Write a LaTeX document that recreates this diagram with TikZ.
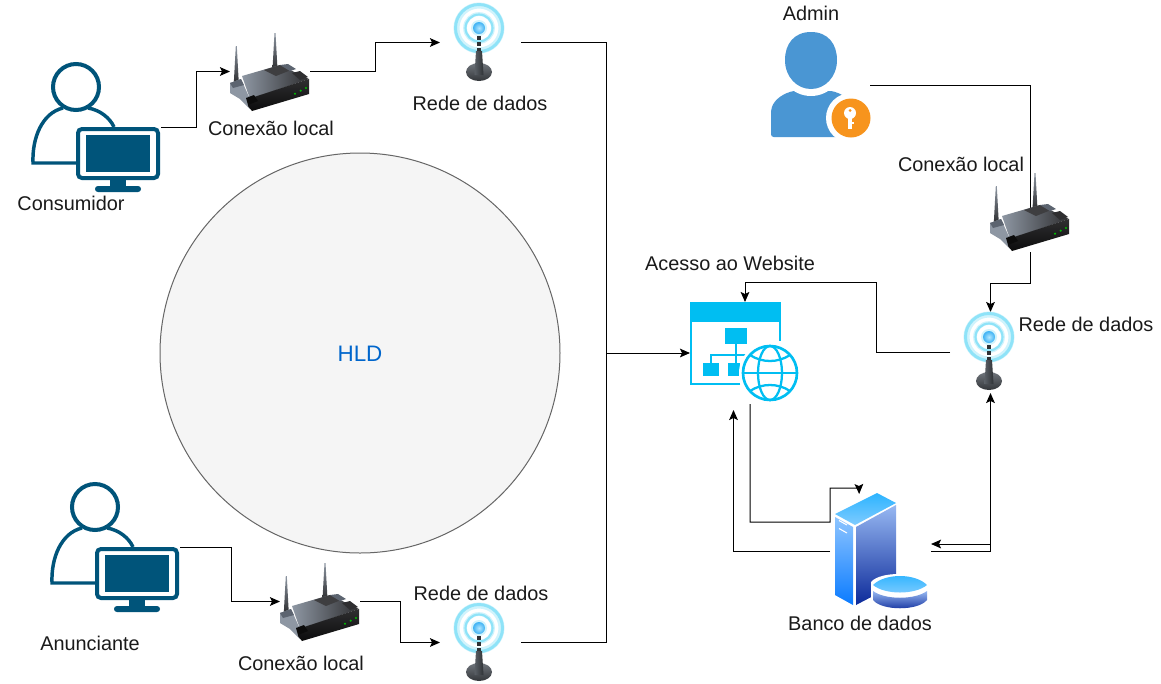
\documentclass[tikz,border=0pt]{standalone}
\usepackage{fontspec}
\setmainfont{Liberation Sans}
\usetikzlibrary{arrows.meta}
\definecolor{teal}{HTML}{00547A}
\definecolor{webc}{HTML}{00BEF2}
\definecolor{adminb}{HTML}{4A96D3}
\definecolor{admino}{HTML}{F7941D}
\definecolor{txt}{HTML}{1A1A1A}
\definecolor{hld}{HTML}{0066CC}
\definecolor{rga}{HTML}{8E97A3}
\definecolor{rgb}{HTML}{5C6470}
\definecolor{rgc}{HTML}{2E2E30}
\definecolor{rgd}{HTML}{0C0C0C}
\definecolor{rge}{HTML}{3E3E40}
\definecolor{ring}{HTML}{8FE3F8}
\definecolor{ringl}{HTML}{D0F3FC}
\definecolor{balla}{HTML}{B4E8FF}
\definecolor{ballb}{HTML}{3FB2F4}
\definecolor{stema}{HTML}{5A5F66}
\definecolor{stemb}{HTML}{2F3236}
\definecolor{basea}{HTML}{70757C}
\definecolor{baseb}{HTML}{33363A}
\definecolor{dla}{HTML}{8EC5FF}
\definecolor{dlb}{HTML}{0A7BFF}
\definecolor{dra}{HTML}{97B8F2}
\definecolor{drb}{HTML}{0C2A9A}
\definecolor{dta}{HTML}{2CB4FF}
\definecolor{dtb}{HTML}{7FCBFF}
\tikzset{
  x=0.75pt,y=-0.75pt,
  iconbox/.style 2 args={rectangle,inner sep=0pt,outer sep=0pt,minimum width=#1*0.75pt,minimum height=#2*0.75pt},
  lbl/.style={inner sep=0pt,text=txt,font=\fontsize{14.9}{18}\selectfont},
  conn/.style={draw=black,line width=0.75pt},
  arr/.style={conn,-{Stealth[length=7.5pt,width=6.5pt,inset=1.5pt]}},
  pics/personicon/.style={code={
    \draw[teal,line width=3pt] (44,24) circle[radius=23];
    \draw[teal,line width=2.6pt,line join=miter] (44,100) -- (1,100) .. controls (0,75) and (10,50) .. (31,45) (56,45) .. controls (68,47) and (78,55) .. (82,64);
    \draw[teal,line width=3pt,fill=white,rounded corners=3pt] (46,66) rectangle (126,115);
    \fill[teal] (54,72) rectangle (118,109);
    \fill[teal] (78,116) rectangle (94,124);
    \fill[teal,rounded corners=2.2pt] (63,123) rectangle (109,129);
  }},
  pics/routericon/.style={code={
    \shade[top color=rga,bottom color=rgc] (3.8,50) -- (5.8,13) -- (6.8,13) -- (8.8,50) -- cycle;
    \shade[top color=rga,bottom color=rgc] (42.5,36) -- (44.5,0) -- (45.5,0) -- (47.5,36) -- cycle;
    \fill[rga] (0,50) -- (11,46) -- (20,66) -- (20,76) -- (10,66) -- (0,60) -- cycle;
    \fill[rgb] (0,50) -- (11,46) -- (14,52) -- (3,55) -- cycle;
    \shade[left color=rga,right color=rgc] (12,43) -- (50,32) -- (79,46) -- (20,66) -- cycle;
    \fill[rge] (34,37) -- (50,32) -- (61,37) -- (46,43) -- cycle;
    \fill[rgb] (50,32) -- (58,31) -- (66,36) -- (60,38) -- cycle;
    \fill[rgc] (62,40) -- (70,38) -- (78,44) -- (70,47) -- cycle;
    \shade[top color=rgc,bottom color=rgd] (18,66) -- (79,46) -- (79,61) -- (22,78) -- (18,73) -- cycle;
    \fill[rgd] (16,65) -- (24,62) -- (28,68) -- (18,72) -- cycle;
    \fill[green!75!black] (65,60.7) circle[radius=1.2] (70.7,57.7) circle[radius=1.2] (76,55) circle[radius=1.2];
  }},
  pics/antennaicon/.style={code={
    \draw[ringl,line width=4.5pt] (39,25) circle[radius=22.5];
    \draw[ring,line width=2.2pt] (39,25) circle[radius=23.5];
    \draw[ringl,line width=2.8pt] (39,25) circle[radius=14];
    \draw[ring,line width=1.6pt] (39,25) circle[radius=13.5];
    \fill[ringl] (39,25) circle[radius=8];
    \shade[inner color=balla,outer color=ballb] (39,25) circle[radius=6];
    \draw[stemb,line width=2.6pt,dash pattern=on 3pt off 1.5pt] (39,33) -- (39,48);
    \shade[top color=basea,bottom color=baseb] (39,69) ellipse[x radius=13,y radius=9];
    \shade[left color=stema,right color=stemb] (36,48) -- (42,48) -- (43.5,72) -- (34.5,72) -- cycle;
  }},
  pics/adminicon/.style={code={
    \fill[adminb,rounded corners=2pt] (1,104) -- (1,80) .. controls (2,69) and (10,62) .. (23,58) -- (62,58) .. controls (75,62) and (85,70) .. (90,80) -- (90,104) -- cycle;
    \fill[white] (41,28) ellipse[x radius=33,y radius=35];
    \fill[adminb] (41,-1) .. controls (58,-1) and (67,11) .. (67,27) .. controls (67,44) and (55,56) .. (41,56) .. controls (27,56) and (15,44) .. (15,27) .. controls (15,11) and (24,-1) .. (41,-1) -- cycle;
    \fill[white] (81,85) circle[radius=25];
    \fill[admino] (81,85) circle[radius=19.5];
    \fill[white] (80,80) circle[radius=6];
    \fill[white] (78,82) rectangle (82,96);
    \fill[white] (82,89) rectangle (83.5,91);
    \fill[admino] (80,77.5) circle[radius=1.5];
  }},
  pics/webicon/.style={code={
    \draw[webc,line width=1.8pt,line cap=butt] (50,82) -- (1,82) -- (1,1) -- (90,1) -- (90,39);
    \fill[webc] (0,0) rectangle (91,20);
    \fill[webc] (35,26) rectangle (57,42);
    \fill[webc] (13,60.5) rectangle (29,73.5);
    \fill[webc] (38,60.5) rectangle (50,73.5);
    \draw[webc,line width=1.5pt] (46,42) -- (46,60.5) (21,60.5) -- (21,53) -- (57,53);
    \fill[white] (80,71) circle[radius=31];
    \draw[webc,line width=2pt] (80,71) circle[radius=27];
    \draw[webc,line width=1.7pt] (80,71) ellipse[x radius=12,y radius=27];
    \draw[webc,line width=1.7pt] (53,71) -- (107,71);
    \draw[webc,line width=1.7pt] (60,53) .. controls (72,61) and (88,61) .. (100,53);
    \draw[webc,line width=1.7pt] (60,89) .. controls (72,81) and (88,81) .. (100,89);
  }},
  pics/dbicon/.style={code={
    \shade[top color=dla,bottom color=dlb] (5,23) -- (23,33) -- (23,111) -- (5,101) -- cycle;
    \shade[top color=dra,bottom color=drb] (26,33) -- (66,11) -- (66,90) -- (26,111) -- cycle;
    \shade[top color=dta,bottom color=dtb] (5,20) -- (47,-1) -- (66,9) -- (25,31) -- cycle;
    \draw[white,line width=0.8pt] (9,26.5) -- (17,31) (9,34.5) -- (17,39);
    \fill[white] (41,88) .. controls (50,77) and (90,77) .. (99,90) -- (99,112) -- (60,116) -- (41,110) -- cycle;
    \shade[top color=dra,bottom color=drb] (43,97) .. controls (55,106) and (85,106) .. (97,97) -- (97,106) .. controls (88,117) and (52,117) .. (43,106) -- cycle;
    \shade[top color=dta,bottom color=dtb] (43,91) .. controls (55,79) and (85,79) .. (97,91) .. controls (85,101) and (55,101) .. (43,91) -- cycle;
  }},
}
\begin{document}
\begin{tikzpicture}
\useasboundingbox (0,0) rectangle (1161,683);
\fill[white] (0,0) rectangle (1161,683);

\node[circle,inner sep=0pt,draw=black!60,fill=black!4,line width=0.75pt,minimum size=300pt] (hldc) at (360,353) {};
\node[lbl,text=hld,font=\fontsize{16.8}{20}\selectfont] (hldt) at (360,354) {HLD};

% icon boxes
\node[iconbox={129}{128}] (cons) at (96.5,127) {};
\node[iconbox={129}{128}] (anun) at (115.5,547) {};
\node[iconbox={80}{77}] (r1) at (270,71.5) {};
\node[iconbox={80}{79}] (r2) at (1030,212.5) {};
\node[iconbox={80}{77}] (r3) at (320,601.5) {};
\node[iconbox={81}{79}] (a1) at (480.5,42.5) {};
\node[iconbox={81}{81}] (a2) at (990.5,352.5) {};
\node[iconbox={81}{79}] (a3) at (480.5,642.5) {};
\node[iconbox={100}{104}] (admin) at (820,85) {};
\node[iconbox={110}{102}] (web) at (745,353) {};
\node[iconbox={101}{114}] (db) at (880.5,551) {};

\coordinate (bus) at (606,353);
\coordinate (ay) at (876,282);
\coordinate (w1) at (830,522);
\coordinate (dbt) at (859,488);
\coordinate (wup) at (733.5,410);
\coordinate (tap) at (990,544);

% connectors
\draw[arr] (cons.east) -- (196,127) |- (r1.west);
\draw[arr] (r1.east) -- (375,71.5) |- (a1.west);
\draw[conn] (a1.east) -| (bus);
\draw[conn] (a3.east) -| (bus);
\draw[arr] (bus) -- (web.west);
\draw[arr] (anun.east) -- (231,547) |- (r3.west);
\draw[arr] (r3.east) -- (400,601.5) |- (a3.west);
\draw[conn] (admin.east) -| (r2.center);
\draw[arr] (r2.south) -- (1030,283) -| (a2.north);
\draw[arr] (a2.west) -| (ay) -| (web.north);
\draw[arr] ([xshift=3.75pt]web.south) |- (w1) |- (dbt) -- ([xshift=-16pt]db.north);
\draw[arr] (db.west) -| (wup);
\draw[arr] (db.east) -| (a2.south);
\draw[arr] (tap) -- (tap -| db.east);

% icons
\pic at (cons.north west) {personicon};
\pic at (anun.north west) {personicon};
\pic at (r1.north west) {routericon};
\pic at (r2.north west) {routericon};
\pic at (r3.north west) {routericon};
\pic at (a1.north west) {antennaicon};
\pic at (a2.north west) {antennaicon};
\pic at (a3.north west) {antennaicon};
\pic at (admin.north west) {adminicon};
\pic at (web.north west) {webicon};
\pic at (db.north west) {dbicon};

% labels
\node[lbl] (l1) at (71,203) {Consumidor};
\node[lbl] (l2) at (271,128) {Conexão local};
\node[lbl] (l3) at (480,103) {Rede de dados};
\node[lbl] (l4) at (811,13) {Admin};
\node[lbl] (l5) at (961,164) {Conexão local};
\node[lbl] (l6) at (1086,324) {Rede de dados};
\node[lbl] (l7) at (730,263) {Acesso ao Website};
\node[lbl] (l8) at (860,623) {Banco de dados};
\node[lbl] (l9) at (90,643) {Anunciante};
\node[lbl] (l10) at (301,663) {Conexão local};
\node[lbl] (l11) at (481,593) {Rede de dados};
\end{tikzpicture}
\end{document}
